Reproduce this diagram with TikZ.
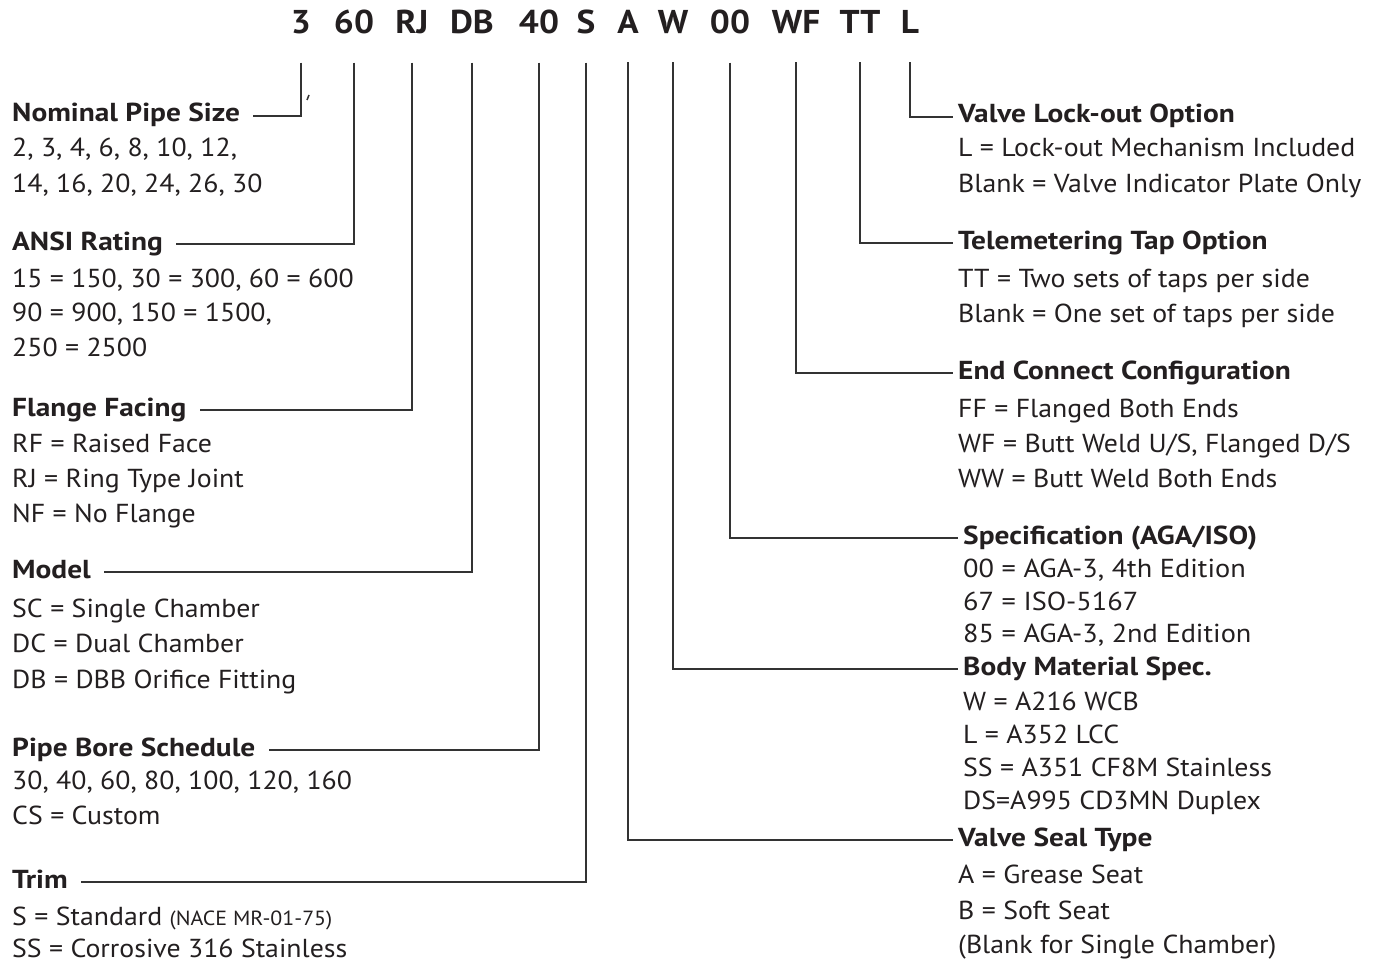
\documentclass[tikz,border=0pt]{standalone}
\usepackage{fontspec}
\setmainfont{PT Sans}
\newfontfamily\bodyf{PT Sans}[FakeStretch=1.07]
\newfontfamily\specf{PT Sans}[FakeStretch=1.09]
\newfontfamily\ttlf{PT Sans}[FakeStretch=1.13]
\newfontfamily\codef{PT Sans}[FakeStretch=1.07]
\definecolor{ink}{HTML}{231F20}
\definecolor{linec}{HTML}{333333}
\begin{document}
\begin{tikzpicture}[x=1pt,y=-1pt,
  codetok/.style={font=\fontsize{33}{33}\codef\bfseries, anchor=base, inner sep=0pt, text=ink},
  ttl/.style={font=\fontsize{26}{26}\ttlf\bfseries, anchor=west, inner sep=0pt, text height=12pt, text depth=0pt, text=ink},
  btxt/.style={font=\fontsize{26}{26}\bodyf, anchor=base west, inner sep=0pt, text=ink},
  stxt/.style={btxt, font=\fontsize{26}{26}\specf},
  conn/.style={draw=linec, line width=2pt},
  lconn/.style={conn, shorten <=28pt, shorten >=13pt},
  rconn/.style={conn, shorten <=28pt, shorten >=5pt}]
\useasboundingbox[fill=white] (0,0) rectangle (1384,963);
% code tokens
\node[codetok] (c1) at (301,34) {3};
\node[codetok] (c2) at (354,34) {60};
\node[codetok] (c3) at (412,34) {RJ};
\node[codetok] (c4) at (472,34) {DB};
\node[codetok] (c5) at (539,34) {40};
\node[codetok] (c6) at (586,34) {S};
\node[codetok] (c7) at (628,34) {A};
\node[codetok] (c8) at (673,34) {W};
\node[codetok] (c9) at (730,34) {00};
\node[codetok] (c10) at (796,34) {WF};
\node[codetok] (c11) at (860,34) {TT};
\node[codetok] (c12) at (910,34) {L};
% left titles
\node[ttl] (t1) at (12,116) {Nominal Pipe Size};
\node[ttl] (t2) at (12,244) {ANSI Rating};
\node[ttl] (t3) at (12,410) {Flange Facing};
\node[ttl] (t4) at (12,572) {Model};
\node[ttl] (t5) at (12,750) {Pipe Bore Schedule};
\node[ttl] (t6) at (12,882) {Trim};
% right titles
\node[ttl] (t12) at (958,117) {Valve Lock-out Option};
\node[ttl] (t11) at (958,243) {Telemetering Tap Option};
\node[ttl] (t10) at (958,373) {End Connect Configuration};
\node[ttl] (t9) at (963,538) {Specification (AGA/ISO)};
\node[ttl] (t8) at (963,669) {Body Material Spec.};
\node[ttl] (t7) at (958,840) {Valve Seal Type};
% connectors
\draw[lconn] (c1.south) |- (t1.east);
\draw[lconn] (c2.south) |- (t2.east);
\draw[lconn] (c3.south) |- (t3.east);
\draw[lconn] (c4.south) |- (t4.east);
\draw[lconn] (c5.south) |- (t5.east);
\draw[lconn] (c6.south) |- (t6.east);
\draw[rconn] (c7.south) |- (t7.west);
\draw[rconn] (c8.south) |- (t8.west);
\draw[rconn] (c9.south) |- (t9.west);
\draw[rconn] (c10.south) |- (t10.west);
\draw[rconn] (c11.south) |- (t11.west);
\draw[rconn] (c12.south) |- (t12.west);
\draw[linec, line width=1.5pt] (307,100) -- (309,95);
% left bodies
\node[btxt] at (12,157) {2, 3, 4, 6, 8, 10, 12,};
\node[btxt] at (12,192) {14, 16, 20, 24, 26, 30};
\node[btxt] at (12,287) {15 = 150, 30 = 300, 60 = 600};
\node[btxt] at (12,321) {90 = 900, 150 = 1500,};
\node[btxt] at (12,356) {250 = 2500};
\node[btxt] at (12,452) {RF = Raised Face};
\node[btxt] at (12,487) {RJ = Ring Type Joint};
\node[btxt] at (12,522) {NF = No Flange};
\node[btxt] at (12,617) {SC = Single Chamber};
\node[btxt] at (12,652) {DC = Dual Chamber};
\node[btxt] at (12,688) {DB = DBB Orifice Fitting};
\node[btxt] at (12,789) {30, 40, 60, 80, 100, 120, 160};
\node[btxt] at (12,824) {CS = Custom};
\node[btxt] at (12,925) {S = Standard {\fontsize{20.5}{20.5}\selectfont(NACE MR-01-75)}};
\node[btxt] at (12,957) {SS = Corrosive 316 Stainless};
% right bodies
\node[btxt] at (958,157) {L = Lock-out Mechanism Included};
\node[btxt] at (958,192) {Blank = Valve Indicator Plate Only};
\node[btxt] at (958,287) {TT = Two sets of taps per side};
\node[btxt] at (958,322) {Blank = One set of taps per side};
\node[btxt] at (958,417) {FF = Flanged Both Ends};
\node[btxt] at (958,452) {WF = Butt Weld U/S, Flanged D/S};
\node[btxt] at (958,487) {WW = Butt Weld Both Ends};
\node[stxt] at (963,577) {00 = AGA-3, 4th Edition};
\node[stxt] at (963,610) {67 = ISO-5167};
\node[stxt] at (963,642) {85 = AGA-3, 2nd Edition};
\node[btxt] at (963,710) {W = A216 WCB};
\node[btxt] at (963,743) {L = A352 LCC};
\node[btxt] at (963,776) {SS = A351 CF8M Stainless};
\node[btxt] at (963,809) {DS=A995 CD3MN Duplex};
\node[btxt] at (958,883) {A = Grease Seat};
\node[btxt] at (958,919) {B = Soft Seat};
\node[btxt] at (958,953) {(Blank for Single Chamber)};
\end{tikzpicture}
\end{document}
